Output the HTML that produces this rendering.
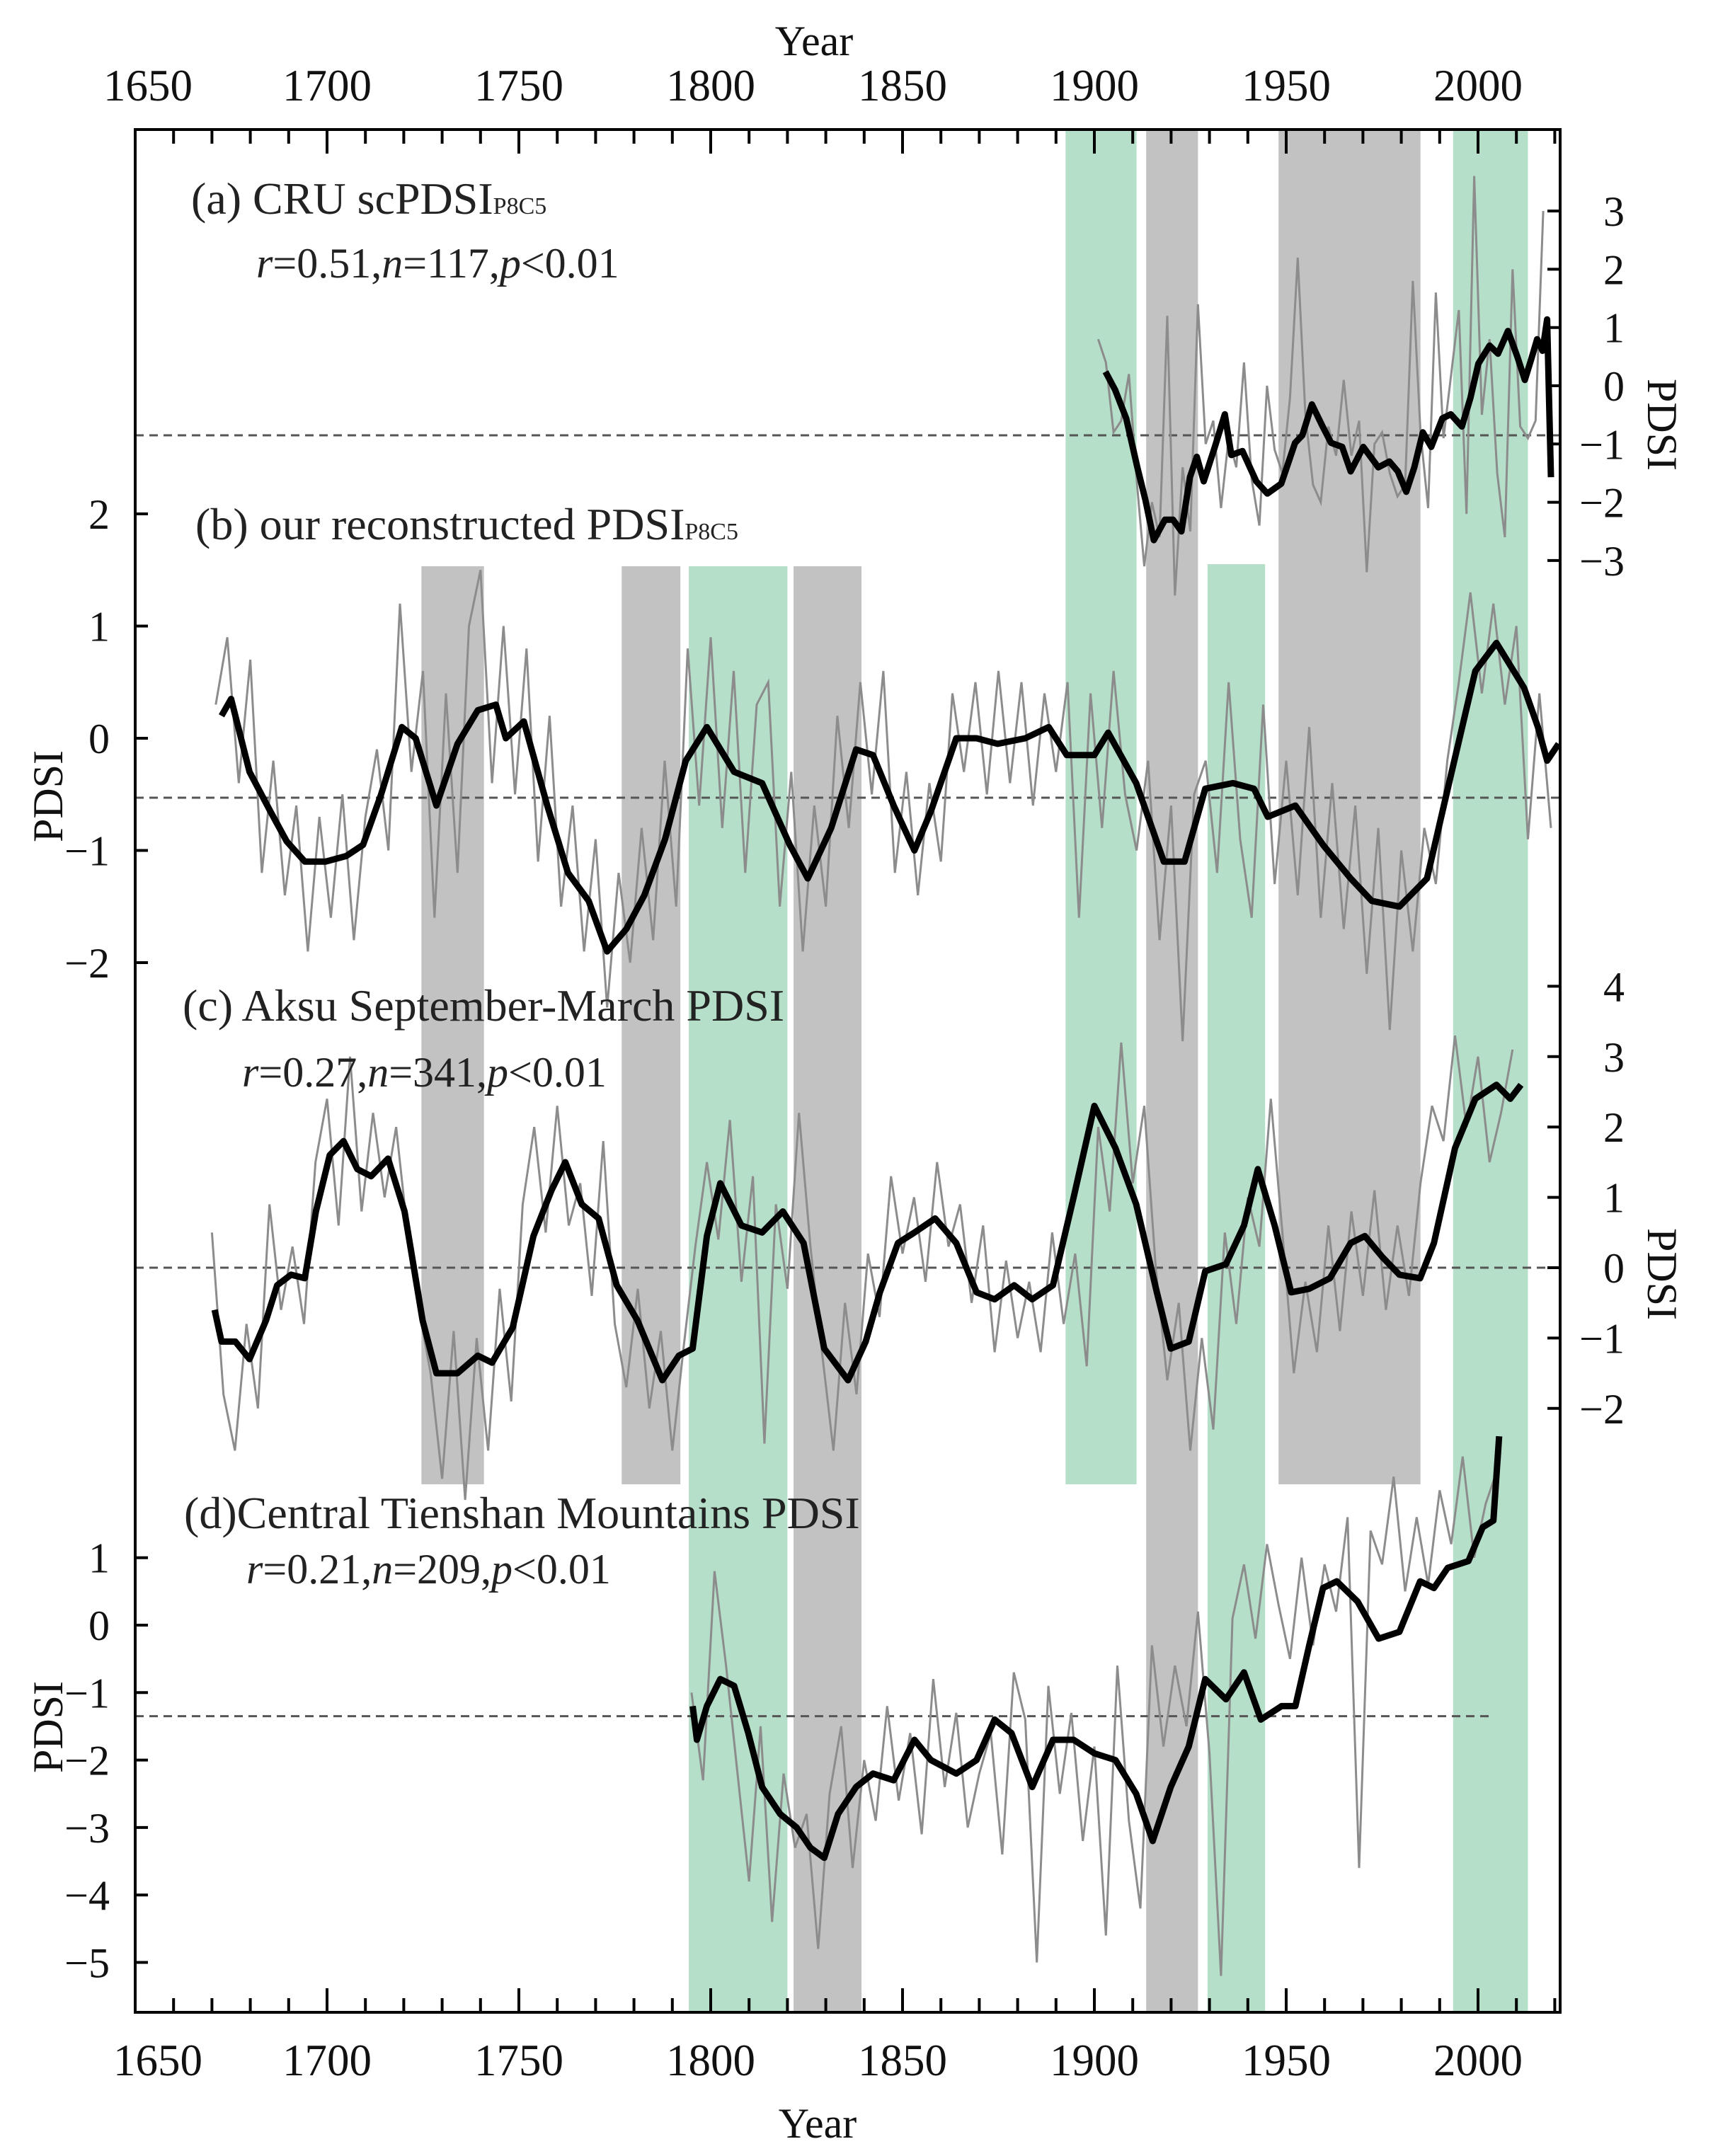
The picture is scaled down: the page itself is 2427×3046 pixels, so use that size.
<!DOCTYPE html>
<html><head><meta charset="utf-8"><style>
html,body{margin:0;padding:0;background:#fff;}
svg{display:block;font-family:"Liberation Serif",serif;}
</style></head><body>
<svg id="chart" width="2427" height="3046" viewBox="0 0 2427 3046" xmlns="http://www.w3.org/2000/svg">
<g id="bands"></g>
<g id="dashes"></g>
<g id="series"></g>
<rect x="191" y="183" width="2013" height="2660" fill="none" stroke="#000" stroke-width="4"/>
<g id="axes"></g>
<g font-size="64" fill="#222">
<text x="270" y="302">(a) CRU scPDSI<tspan font-size="34">P8C5</tspan></text>
<text x="362" y="392" font-size="60"><tspan font-style="italic">r</tspan>=0.51,<tspan font-style="italic">n</tspan>=117,<tspan font-style="italic">p</tspan>&lt;0.01</text>
<text x="276" y="762">(b) our reconstructed PDSI<tspan font-size="34">P8C5</tspan></text>
<text x="258" y="1442">(c) Aksu September-March PDSI</text>
<text x="342" y="1535" font-size="60"><tspan font-style="italic">r</tspan>=0.27,<tspan font-style="italic">n</tspan>=341,<tspan font-style="italic">p</tspan>&lt;0.01</text>
<text x="260" y="2159">(d)Central Tienshan Mountains PDSI</text>
<text x="348" y="2237" font-size="60"><tspan font-style="italic">r</tspan>=0.21,<tspan font-style="italic">n</tspan>=209,<tspan font-style="italic">p</tspan>&lt;0.01</text>
</g>
<g font-size="60" fill="#111">
<text x="1150" y="78" text-anchor="middle">Year</text>
<text x="1155" y="3020" text-anchor="middle">Year</text>
<text transform="translate(2328,600) rotate(90)" text-anchor="middle">PDSI</text>
<text transform="translate(88,1125) rotate(-90)" text-anchor="middle">PDSI</text>
<text transform="translate(2328,1800) rotate(90)" text-anchor="middle">PDSI</text>
<text transform="translate(88,2440) rotate(-90)" text-anchor="middle">PDSI</text>
</g>
</svg>
<script>
// ---- data ----
const xTicks = [1650,1700,1750,1800,1850,1900,1950,2000];
const greenBandStart = [1892.5,1794.3,1929.5,1993.5];
const greenBandEnd   = [1911,1820,1944.5,2013];
const greyBandStart  = [1913.5,1948,1724.6,1776.8,1821.6];
const greyBandEnd    = [1927,1985,1740.9,1792.1,1839.3];

const ticksA = [3,2,1,0,-1,-2,-3];
const ticksB = [2,1,0,-1,-2];
const ticksC = [4,3,2,1,0,-1,-2];
const ticksD = [1,0,-1,-2,-3,-4,-5];
const meanA = -0.85, meanB = -0.53, meanC = 0, meanD = -1.35;

const yearsSmoothA = [1902.9,1905.4,1908.3,1911.2,1913.3,1915.5,1918.4,1920.5,1922.7,1924.9,1926.7,1928.5,1931.4,1934,1935.7,1938.6,1942.2,1945.1,1948.7,1952.3,1954.2,1956.7,1959.5,1961.7,1964.6,1966.8,1970.1,1974,1976.9,1979.1,1981.3,1983.4,1985.6,1987.8,1990.7,1992.9,1995.8,1998,2000.1,2003,2005.2,2007.8,2010.3,2012.2,2013.9,2015.4,2016.8,2018,2019];
const smoothA = [0.24,-0.07,-0.56,-1.4,-1.96,-2.65,-2.3,-2.3,-2.5,-1.57,-1.22,-1.64,-1.05,-0.49,-1.19,-1.12,-1.64,-1.85,-1.68,-0.98,-0.85,-0.32,-0.7,-0.98,-1.05,-1.47,-1.05,-1.4,-1.3,-1.47,-1.82,-1.4,-0.8,-1.05,-0.56,-0.49,-0.7,-0.21,0.38,0.69,0.55,0.94,0.49,0.1,0.46,0.8,0.6,1.14,-1.57];
const rawStartA = 1901, rawStepA = 2;
const rawA = [0.8,0.4,-0.8,-0.6,0.2,-1.6,-3.1,-2.0,-2.6,1.2,-3.6,-1.4,-2.5,1.4,-1.0,-0.6,-2.1,-0.9,-1.4,0.4,-1.6,-2.4,0.0,-1.1,-1.5,-0.2,2.2,-0.5,-1.7,-2.0,-0.7,-1.2,0.1,-1.2,-0.6,-3.2,-1.0,-0.8,-1.5,-1.9,-1.7,1.8,-0.8,-2.1,1.6,-0.9,0.2,1.3,-2.2,3.6,-0.5,0.8,-1.5,-2.6,2.0,-0.7,-0.9,-0.6,3.0];

const yearsSmoothB = [1672.5,1675,1679.8,1685.2,1689.5,1694.2,1699.6,1705,1709.4,1714.1,1719.5,1723.1,1728.5,1734,1739.3,1744,1746.6,1751.3,1757.4,1762.8,1768.2,1773,1778,1782.7,1788.1,1793.5,1799,1806.1,1813.4,1820.6,1825.3,1831.4,1837.9,1842.3,1847.7,1853.1,1857.4,1864,1869.3,1874.8,1882,1888.1,1892.8,1900,1903.6,1910.9,1918.1,1923.5,1928.9,1936.1,1941.6,1945.2,1952.4,1959.6,1966.8,1972.3,1979.5,1986.7,1992.1,1999.3,2004.8,2012,2015.6,2018,2021];
const smoothB = [0.2,0.35,-0.3,-0.65,-0.92,-1.1,-1.1,-1.05,-0.95,-0.5,0.1,0.0,-0.6,-0.05,0.25,0.3,0.0,0.15,-0.6,-1.2,-1.45,-1.9,-1.7,-1.4,-0.9,-0.2,0.1,-0.3,-0.4,-0.95,-1.25,-0.8,-0.1,-0.15,-0.6,-1.0,-0.65,0.0,0.0,-0.05,0.0,0.1,-0.15,-0.15,0.05,-0.4,-1.1,-1.1,-0.45,-0.4,-0.45,-0.7,-0.6,-0.95,-1.25,-1.45,-1.5,-1.25,-0.45,0.6,0.85,0.45,0.1,-0.2,-0.05];
const rawStartB = 1671, rawStepB = 3;
const rawB = [0.3,0.9,-0.4,0.7,-1.2,-0.2,-1.4,-0.6,-1.9,-0.7,-1.6,-0.5,-1.8,-0.7,-0.1,-1.0,1.2,-0.3,0.6,-1.6,0.4,-1.2,1.0,1.5,-0.4,1.0,-0.5,0.8,-1.1,0.2,-1.5,-0.6,-1.9,-0.9,-2.4,-1.2,-2.0,-0.8,-1.8,-0.2,-1.5,0.8,-0.6,0.9,-0.8,0.6,-1.2,0.3,0.5,-1.5,-0.3,-1.9,-0.6,-1.5,0.2,-0.8,0.5,-0.5,0.6,-1.2,-0.3,-1.4,-0.4,-1.1,0.4,-0.3,0.5,-0.5,0.6,-0.4,0.5,-0.6,0.4,-0.3,0.5,-1.6,0.4,-0.8,0.6,-0.5,-1.0,-0.2,-1.8,-0.6,-2.7,-0.5,-0.2,-1.2,0.5,-0.9,-1.6,0.3,-1.3,-0.2,-1.4,0.1,-1.6,-0.4,-1.7,-0.6,-2.1,-0.8,-2.6,-1.0,-1.9,-0.8,-1.3,-0.2,0.5,1.3,0.4,1.2,0.3,1.0,-0.9,0.4,-0.8];

const yearsSmoothC = [1670.7,1672.5,1676.1,1679.8,1684.1,1687,1690.6,1694.2,1697.1,1700.7,1704.3,1707.9,1711.5,1715.9,1720.2,1724.9,1728.5,1734,1739.3,1743,1748.4,1753.8,1758.5,1762.1,1766.4,1770.8,1775.5,1780.9,1787.4,1791.7,1795.3,1799,1802.5,1808,1813.4,1818.8,1824.2,1829.6,1835.8,1840.4,1844.1,1848.8,1853.1,1858.5,1864,1869.3,1874,1879.1,1883.8,1889.2,1894.6,1900,1905.5,1910.9,1916.3,1919.9,1924.6,1928.9,1934.3,1939,1942.6,1947,1951.3,1956,1961.4,1966.8,1970.5,1975.1,1979.5,1984.9,1988.5,1994,1999.3,2004.8,2008.4,2011.2];
const smoothC = [-0.6,-1.05,-1.05,-1.3,-0.75,-0.25,-0.1,-0.15,0.8,1.6,1.8,1.4,1.3,1.55,0.8,-0.75,-1.5,-1.5,-1.25,-1.35,-0.85,0.45,1.1,1.5,0.9,0.7,-0.25,-0.75,-1.6,-1.25,-1.15,0.45,1.2,0.6,0.5,0.8,0.35,-1.15,-1.6,-1.05,-0.35,0.35,0.5,0.7,0.35,-0.35,-0.45,-0.25,-0.45,-0.25,1.0,2.3,1.7,0.9,-0.35,-1.15,-1.05,-0.05,0.05,0.6,1.4,0.6,-0.35,-0.3,-0.15,0.35,0.45,0.15,-0.1,-0.15,0.35,1.7,2.4,2.6,2.4,2.6];
const rawStartC = 1670, rawStepC = 3;
const rawC = [0.5,-1.8,-2.6,-0.8,-2.0,0.9,-0.6,0.3,-0.8,1.5,2.4,0.6,3.0,0.8,2.2,1.0,2.0,0.5,-0.6,-1.5,-3.0,-0.9,-3.3,-1.0,-2.6,-0.3,-1.9,0.9,2.0,0.5,2.3,0.6,1.2,-0.4,1.8,-0.8,-1.7,-0.3,-2.0,-0.9,-2.6,-1.1,0.3,1.5,0.4,2.1,-0.2,1.3,-2.5,0.9,-0.3,2.2,0.3,-1.2,-2.6,-0.5,-1.8,0.2,-0.7,1.3,0.2,1.0,-0.2,1.5,0.3,0.9,-0.5,0.6,-1.2,0.1,-1.0,-0.2,-1.2,0.5,-0.8,0.2,-1.4,2.0,0.8,3.2,1.2,2.3,0.0,-1.6,-0.5,-2.6,-1.0,-2.3,0.5,-0.8,1.0,0.3,2.4,0.5,-1.5,-0.2,-1.2,0.6,-0.9,0.8,-0.4,1.1,-0.6,0.6,-0.4,1.2,2.3,1.8,3.3,2.0,3.0,1.5,2.2,3.1];

const yearsSmoothD = [1795.3,1796.4,1799,1802.5,1806.1,1809.8,1813.4,1818.1,1822.4,1826,1829.6,1833.2,1837.9,1842.3,1847.7,1853.1,1857.4,1864,1869.3,1874,1878.4,1883.8,1889.2,1894.6,1900,1905.5,1910.9,1915.2,1919.9,1924.6,1928.9,1934.3,1939,1943.4,1948.8,1952.4,1956,1959.6,1963.2,1968.6,1974.1,1979.5,1984.9,1988.5,1992.1,1997.5,2001.2,2004,2005.5];
const smoothD = [-1.2,-1.7,-1.2,-0.8,-0.9,-1.6,-2.4,-2.8,-3.0,-3.3,-3.45,-2.8,-2.4,-2.2,-2.3,-1.7,-2.0,-2.2,-2.0,-1.4,-1.6,-2.4,-1.7,-1.7,-1.9,-2.0,-2.5,-3.2,-2.4,-1.8,-0.8,-1.1,-0.7,-1.4,-1.2,-1.2,-0.3,0.55,0.65,0.35,-0.2,-0.1,0.65,0.55,0.85,0.95,1.45,1.55,2.8];
const rawStartD = 1795, rawStepD = 3;
const rawD = [-1.0,-2.3,0.8,-0.6,-2.2,-3.8,-1.5,-4.4,-2.2,-3.3,-2.8,-4.8,-2.5,-1.5,-3.6,-2.0,-2.9,-1.2,-2.6,-1.6,-3.1,-0.8,-2.4,-1.3,-3.0,-2.2,-1.6,-3.4,-0.7,-1.4,-5.0,-0.9,-2.5,-1.3,-3.2,-1.8,-4.6,-0.6,-2.9,-4.2,-0.3,-1.8,-0.6,-1.5,0.2,-1.9,-5.2,0.1,0.9,-0.2,1.2,0.3,-0.5,1.0,-0.3,0.9,0.2,1.6,-3.6,1.4,0.9,2.2,0.5,1.6,0.6,2.0,1.2,2.5,1.0,1.8,2.3];

// ---- scales ----
const NS = 'http://www.w3.org/2000/svg';
const X0 = 191, PX_PER_YEAR = 5.42, FRAME_TOP = 183, FRAME_BOTTOM = 2843, FRAME_RIGHT = 2204;
function xScale(yr){ return X0 + (yr - 1650) * PX_PER_YEAR; }
function yA(v){ return 545 - v * 82.3; }
function yB(v){ return 1043 - v * 158.5; }
function yC(v){ return 1791 - v * 99.4; }
function yD(v){ return 2296 - v * 95.3; }

function mk(tag, parent){ const e = document.createElementNS(NS, tag); parent.appendChild(e); return e; }

// ---- bands ----
const bandsG = document.getElementById('bands');
const greenTop = [FRAME_TOP, 800, 797, FRAME_TOP];
const greenBottom = [2097, FRAME_BOTTOM, FRAME_BOTTOM, FRAME_BOTTOM];
greenBandStart.forEach((s, i) => {
  const r = mk('rect', bandsG);
  
  
  r.setAttribute('x', xScale(s)); r.setAttribute('width', xScale(greenBandEnd[i]) - xScale(s));
  r.setAttribute('y', greenTop[i]); r.setAttribute('height', greenBottom[i] - greenTop[i]);
  r.setAttribute('fill', '#b5dfc9');
});
const greyTop = [FRAME_TOP, FRAME_TOP, 800, 800, 800];
const greyBottom = [FRAME_BOTTOM, 2097, 2097, 2097, FRAME_BOTTOM];
greyBandStart.forEach((s, i) => {
  const r = mk('rect', bandsG);
  
  
  r.setAttribute('x', xScale(s)); r.setAttribute('width', xScale(greyBandEnd[i]) - xScale(s));
  r.setAttribute('y', greyTop[i]); r.setAttribute('height', greyBottom[i] - greyTop[i]);
  r.setAttribute('fill', '#c2c2c2');
});

// ---- mean dashed lines ----
const dashG = document.getElementById('dashes');
[[yA(meanA), FRAME_RIGHT],[yB(meanB), FRAME_RIGHT],[yC(meanC), FRAME_RIGHT],[yD(meanD), xScale(2003)]].forEach(d => {
  const l = mk('line', dashG);
  
  
  l.setAttribute('x1', X0); l.setAttribute('x2', d[1]);
  l.setAttribute('y1', d[0]); l.setAttribute('y2', d[0]);
  l.setAttribute('stroke', '#555'); l.setAttribute('stroke-width', 3); l.setAttribute('stroke-dasharray', '12 8');
});

// ---- series ----
const serG = document.getElementById('series');
function rawLine(start, step, vals, ys, name){
  const p = mk('polyline', serG);
  
  
  p.setAttribute('points', vals.map((v, i) => xScale(start + i * step).toFixed(1) + ',' + ys(v).toFixed(1)).join(' '));
  p.setAttribute('fill', 'none'); p.setAttribute('stroke', '#8c8c8c'); p.setAttribute('stroke-width', 3);
}
function smoothLine(years, vals, ys, name){
  const p = mk('polyline', serG);
  
  
  p.setAttribute('points', vals.map((v, i) => xScale(years[i]).toFixed(1) + ',' + ys(v).toFixed(1)).join(' '));
  p.setAttribute('fill', 'none'); p.setAttribute('stroke', '#000'); p.setAttribute('stroke-width', 9);
  p.setAttribute('stroke-linejoin', 'round');
}
rawLine(rawStartA, rawStepA, rawA, yA, 'cru-raw-line');
rawLine(rawStartB, rawStepB, rawB, yB, 'reconstructed-raw-line');
rawLine(rawStartC, rawStepC, rawC, yC, 'aksu-raw-line');
rawLine(rawStartD, rawStepD, rawD, yD, 'tienshan-raw-line');
smoothLine(yearsSmoothA, smoothA, yA, 'cru-smooth-line');
smoothLine(yearsSmoothB, smoothB, yB, 'reconstructed-smooth-line');
smoothLine(yearsSmoothC, smoothC, yC, 'aksu-smooth-line');
smoothLine(yearsSmoothD, smoothD, yD, 'tienshan-smooth-line');

// ---- axes ----
const axG = document.getElementById('axes');
for (let yr = 1660; yr <= 2020; yr += 10) {
  const major = yr % 50 === 0;
  const len = major ? 34 : 20;
  [[FRAME_TOP, 1], [FRAME_BOTTOM, -1]].forEach(t => {
    const l = mk('line', axG);
    
    
    l.setAttribute('x1', xScale(yr)); l.setAttribute('x2', xScale(yr));
    l.setAttribute('y1', t[0]); l.setAttribute('y2', t[0] + t[1] * len);
    l.setAttribute('stroke', '#000'); l.setAttribute('stroke-width', 4);
  });
}
xTicks.forEach(yr => {
  [[142, 'top-x-tick-label', 18], [2932, 'bottom-x-tick-label', 32]].forEach(t => {
    const tx = mk('text', axG);
    
    
    tx.setAttribute('x', xScale(yr) + (yr === 1650 ? t[2] : 0)); tx.setAttribute('y', t[0]);
    tx.setAttribute('text-anchor', 'middle'); tx.setAttribute('font-size', 63); tx.setAttribute('fill', '#111');
    tx.textContent = yr;
  });
});
function yAxis(ticks, ys, side, name){
  ticks.forEach(v => {
    const y = ys(v);
    const l = mk('line', axG);
    
    
    const x = side === 'left' ? X0 : FRAME_RIGHT;
    l.setAttribute('x1', x); l.setAttribute('x2', side === 'left' ? x + 18 : x - 18);
    l.setAttribute('y1', y); l.setAttribute('y2', y);
    l.setAttribute('stroke', '#000'); l.setAttribute('stroke-width', 4);
    const t = mk('text', axG);
    
    
    t.setAttribute('y', y + 21); t.setAttribute('font-size', 60); t.setAttribute('fill', '#111');
    if (side === 'left') { t.setAttribute('x', 155); t.setAttribute('text-anchor', 'end'); }
    else { t.setAttribute('x', 2295); t.setAttribute('text-anchor', 'end'); }
    t.textContent = v < 0 ? '\u2212' + Math.abs(v) : String(v);
  });
}
yAxis(ticksA, yA, 'right', 'y-axis-a');
yAxis(ticksB, yB, 'left', 'y-axis-b');
yAxis(ticksC, yC, 'right', 'y-axis-c');
yAxis(ticksD, yD, 'left', 'y-axis-d');
</script>
</body></html>
